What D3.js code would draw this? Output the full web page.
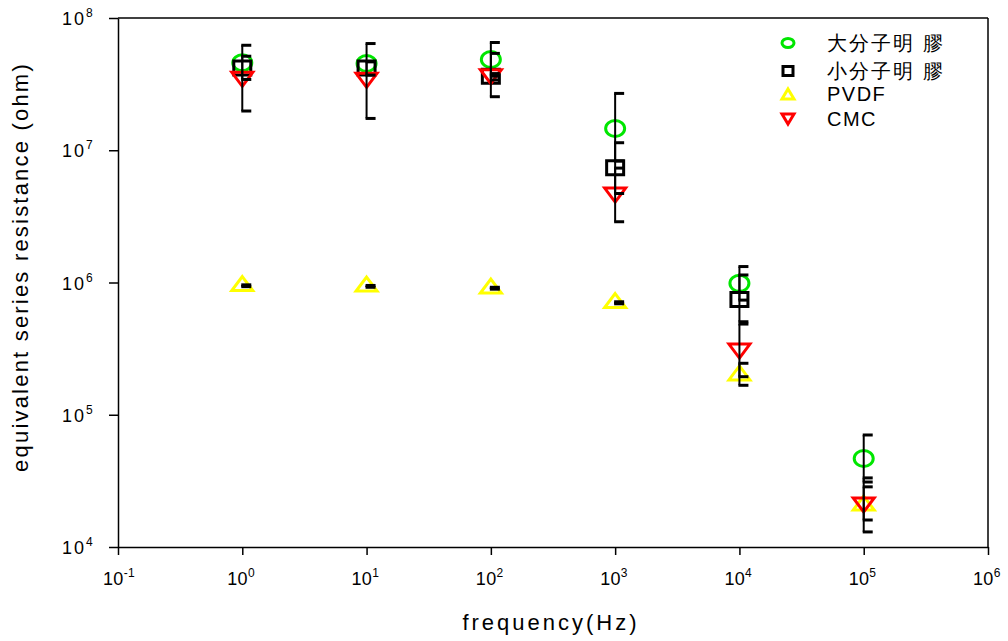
<!DOCTYPE html>
<html>
<head>
<meta charset="utf-8">
<script src="https://cdn.jsdelivr.net/npm/d3@7"></script>
<style>
  body { margin: 0; background: #fff; }
  svg { display: block; }
  text { font-family: "Liberation Sans", Arial, sans-serif; fill: #000; }
</style>
</head>
<body>
<svg id="chart"></svg>
<script>
const WIDTH = 1008;
const HEIGHT = 641;

// frequencies (Hz)
const FREQS = [1, 10, 100, 1000, 10000, 100000];
const X_TICKS = [-1, 0, 1, 2, 3, 4, 5, 6];
const Y_TICKS = [4, 5, 6, 7, 8];

const SERIES_NAMES = ['大分子明 膠', '小分子明 膠', 'PVDF', 'CMC'];
const SERIES_COLORS = ['#00e600', '#000000', '#ffff00', '#ff0000'];
const SERIES_SHAPES = ['circle', 'square', 'triUp', 'triDown'];

// equivalent series resistance (ohm)
const BIG_GELATIN = [4.58e7, 4.53e7, 4.86e7, 1.46e7, 9.85e5, 4.67e4];
const SMALL_GELATIN = [4.18e7, 4.18e7, 3.63e7, 7.38e6, 7.43e5, null];
const PVDF = [9.82e5, 9.73e5, 9.40e5, 7.30e5, 2.07e5, 2.15e4];
const CMC = [3.44e7, 3.38e7, 3.60e7, 4.58e6, 3.03e5, 2.08e4];

// error bars [low, high]
const BIG_GELATIN_ERR = [null, null, [3.63e7, 6.53e7], [8.28e6, 2.69e7], [7.36e5, 1.32e6], [3.10e4, 7.03e4]];
const SMALL_GELATIN_ERR = [[3.43e7, 5.14e7], [3.70e7, 4.66e7], [2.54e7, 5.40e7], [4.71e6, 1.14e7], [5.05e5, 1.14e6], null];
const PVDF_ERR = [[9.3e5, 9.6e5], [9.2e5, 9.5e5], [8.9e5, 9.2e5], [6.9e5, 7.15e5], [1.67e5, 2.45e5], [1.60e4, 2.85e4]];
const CMC_ERR = [[1.98e7, 6.22e7], [1.74e7, 6.41e7], [3.4e7, 3.8e7], [2.88e6, 7.33e6], [1.94e5, 4.85e5], [1.30e4, 3.33e4]];

const VALUES = [BIG_GELATIN, SMALL_GELATIN, PVDF, CMC];
const ERRORS = [BIG_GELATIN_ERR, SMALL_GELATIN_ERR, PVDF_ERR, CMC_ERR];

const PLOT = { left: 118, right: 988, top: 18, bottom: 547 };

const svg = d3.select('#chart')
              .attr('width', WIDTH)
              .attr('height', HEIGHT);

const x = d3.scaleLog().domain([1e-1, 1e6]).range([PLOT.left, PLOT.right]);
const y = d3.scaleLog().domain([1e4, 1e8]).range([PLOT.bottom, PLOT.top]);

// axes
const xAxis = d3.axisBottom(x)
                .tickValues(X_TICKS.map(p => Math.pow(10, p)))
                .tickSize(8)
                .tickSizeOuter(0)
                .tickFormat('');
const yAxis = d3.axisLeft(y)
                .tickValues(Y_TICKS.map(p => Math.pow(10, p)))
                .tickSize(9)
                .tickSizeOuter(0)
                .tickFormat('');

const gx = svg.append('g')
              .attr('transform', `translate(0,${PLOT.bottom})`)
              .call(xAxis);
const gy = svg.append('g')
              .attr('transform', `translate(${PLOT.left},0)`)
              .call(yAxis);
[gx, gy].forEach(g => {
  g.selectAll('path, line').attr('stroke', '#000').attr('stroke-width', 1.5);
});

// top and right frame
svg.append('line')
   .attr('x1', x(1e-1)).attr('x2', x(1e6))
   .attr('y1', y(1e8)).attr('y2', y(1e8))
   .attr('stroke', '#000').attr('stroke-width', 1.5);
svg.append('line')
   .attr('x1', x(1e6)).attr('x2', x(1e6))
   .attr('y1', y(1e8)).attr('y2', y(1e4))
   .attr('stroke', '#000').attr('stroke-width', 1.5);

// tick labels
X_TICKS.forEach(p => {
  let t = svg.append('text')
             .attr('x', x(Math.pow(10, p)) - 15)
             .attr('y', 585)
             .attr('font-size', '18px')
             .attr('letter-spacing', '0.3px');
  t.append('tspan').text('10');
  t.append('tspan').attr('dy', -8).attr('font-size', '12px').text(p);
});

Y_TICKS.forEach(p => {
  let t = svg.append('text')
             .attr('x', 62)
             .attr('y', y(Math.pow(10, p)) + 7)
             .attr('font-size', '18px')
             .attr('letter-spacing', '2px');
  t.append('tspan').text('10');
  t.append('tspan').attr('dy', -8).attr('font-size', '12px').attr('letter-spacing', '0px').text(p);
});

// axis titles
svg.append('text')
   .attr('x', (PLOT.left + PLOT.right) / 2 - 2)
   .attr('y', 630)
   .attr('text-anchor', 'middle')
   .attr('font-size', '22px')
   .attr('letter-spacing', '3px')
   .text('frequency(Hz)');

svg.append('text')
   .attr('transform', 'translate(28,267) rotate(-90)')
   .attr('text-anchor', 'middle')
   .attr('font-size', '22px')
   .attr('letter-spacing', '2.2px')
   .text('equivalent series resistance (ohm)');

// marker shapes
function markerPath(shape, w, h) {
  if (shape === 'triUp') return `M0,${-h / 2}L${w / 2},${h / 2}L${-w / 2},${h / 2}Z`;
  if (shape === 'triDown') return `M0,${h / 2}L${w / 2},${-h / 2}L${-w / 2},${-h / 2}Z`;
  if (shape === 'square') return `M${-w / 2},${-h / 2}H${w / 2}V${h / 2}H${-w / 2}Z`;
  // ellipse
  return `M${-w / 2},0A${w / 2},${h / 2} 0 1,0 ${w / 2},0A${w / 2},${h / 2} 0 1,0 ${-w / 2},0Z`;
}

const MARKER_SIZE = {
  circle: [19, 16],
  square: [17, 14],
  triUp: [21, 14],
  triDown: [21, 14]
};

const points = svg.append('g');
VALUES.forEach((vals, si) => {
  const shape = SERIES_SHAPES[si];
  const data = FREQS.map((f, i) => ({ f: f, v: vals[i] })).filter(d => d.v != null);
  points.selectAll(null)
        .data(data)
        .enter().append('path')
        .attr('transform', d => `translate(${x(d.f)},${y(d.v)})`)
        .attr('d', markerPath(shape, MARKER_SIZE[shape][0], MARKER_SIZE[shape][1]))
        .attr('fill', 'none')
        .attr('stroke', SERIES_COLORS[si])
        .attr('stroke-width', 3);
});

// error bars (black, caps to the right)
const errs = svg.append('g').attr('stroke', '#000');
ERRORS.forEach(errList => {
  FREQS.forEach((f, i) => {
    const e = errList[i];
    if (!e) return;
    const cx = x(f);
    errs.append('line')
        .attr('x1', cx).attr('x2', cx)
        .attr('y1', y(e[0])).attr('y2', y(e[1]))
        .attr('stroke-width', 2);
    e.forEach(v => {
      errs.append('line')
          .attr('x1', cx - 1).attr('x2', cx + 9)
          .attr('y1', y(v)).attr('y2', y(v))
          .attr('stroke-width', 3);
    });
  });
});

// legend
const LEGEND_X = 788;
const LEGEND_Y = [43, 71, 94, 119];
const LEGEND_SIZE = {
  circle: [12, 9],
  square: [10, 9],
  triUp: [12, 10],
  triDown: [12, 10]
};
const legend = svg.append('g');
SERIES_NAMES.forEach((name, si) => {
  const shape = SERIES_SHAPES[si];
  legend.append('path')
        .attr('transform', `translate(${LEGEND_X},${LEGEND_Y[si]})`)
        .attr('d', markerPath(shape, LEGEND_SIZE[shape][0], LEGEND_SIZE[shape][1]))
        .attr('fill', 'none')
        .attr('stroke', SERIES_COLORS[si])
        .attr('stroke-width', 3);
  legend.append('text')
        .attr('x', 827)
        .attr('y', LEGEND_Y[si] + 7)
        .attr('font-size', '20px')
        .attr('letter-spacing', si < 2 ? '2px' : '1.5px')
        .attr('fill', '#222')
        .text(name);
});
</script>
</body>
</html>
